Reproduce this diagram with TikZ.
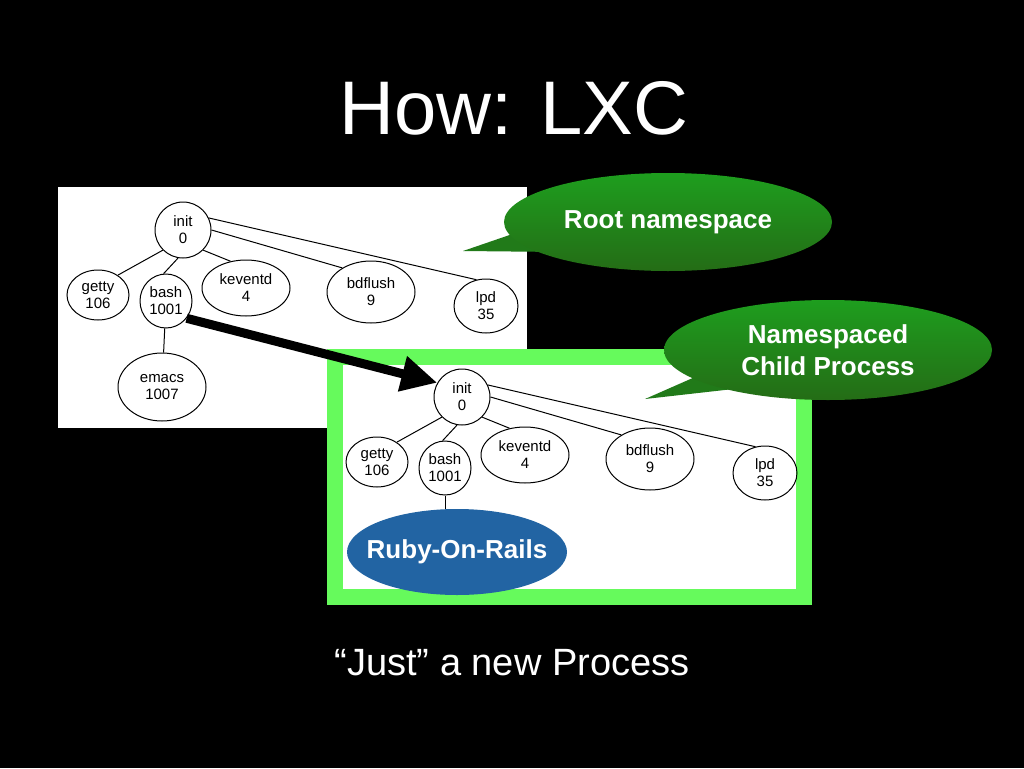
\documentclass[tikz,border=0pt]{standalone}
\usepackage{fontspec}
\setmainfont{Liberation Sans}
\usetikzlibrary{
  positioning, arrows.meta,
  shapes.geometric
}

\definecolor{framegreen}{RGB}{102,250,92}
\definecolor{bubbletop}{RGB}{30,158,30}
\definecolor{bubblebot}{RGB}{36,108,22}
\definecolor{bubbletail}{RGB}{33,122,25}
\definecolor{railsblue}{RGB}{34,100,163}

\tikzset{
  proc/.style={ellipse, draw, line width=1pt, inner sep=0pt, align=center,
    font=\fontsize{15}{17}\selectfont},
  bubble/.style={ellipse, inner sep=0pt, top color=bubbletop, bottom color=bubblebot,
    text=white, align=center, font=\bfseries\fontsize{26}{32}\selectfont},
  tail/.style={fill=bubbletail},
  bigarrow/.style={line width=9pt, -{Triangle[length=36pt,width=34pt]}},
  slidetext/.style={anchor=base, text=white}
}

% one hand drawn process tree, placed by the scope round it
\newcommand{\proctree}{%
  \node[proc, minimum width=56pt, minimum height=56pt] (init) at (183,230) {init\\0};
  \node[proc, minimum width=62pt, minimum height=50pt] (getty) at (98,295) {getty\\106};
  \node[proc, minimum width=52pt, minimum height=54pt] (bash) at (166,301) {bash\\1001};
  \node[proc, minimum width=88pt, minimum height=56pt] (keventd) at (246,288) {keventd\\4};
  \node[proc, minimum width=88pt, minimum height=62pt] (bdflush) at (371,292) {bdflush\\9};
  \node[proc, minimum width=64pt, minimum height=54pt] (lpd) at (486,306) {lpd\\35};
  \draw[line width=1pt] (init.-135) -- (getty.45);
  \draw[line width=1pt] (init.-100) -- (bash.95);
  \draw[line width=1pt] (init.-45) -- (keventd.120);
  \draw[line width=1pt] (init.0) -- (bdflush.140);
  \draw[line width=1pt] (init.25) -- (lpd.110);
}

\begin{document}
\begin{tikzpicture}[x=1pt, y=-1pt]
  \fill[black] (0,0) rectangle (1024,768);
  \useasboundingbox (0,0) rectangle (1024,768);

  \node[slidetext, font=\fontsize{76}{88}\selectfont] (title) at (514,134) {How: LXC};

  % root namespace picture
  \fill[white] (58,187) rectangle (527,428);
  \begin{scope}[name prefix=l-]
    \proctree
    \node[proc, minimum width=88pt, minimum height=68pt] (emacs) at (162,387) {emacs\\1007};
    \draw[line width=1pt] (bash) -- (emacs);
  \end{scope}

  % child picture in its green frame
  \draw[framegreen, line width=16pt, fill=white] (335,357) rectangle (804,597);
  \begin{scope}[shift={(279,167)}, name prefix=r-]
    \proctree
  \end{scope}
  \node[ellipse, fill=railsblue, inner sep=0pt, minimum width=220pt, minimum height=86pt,
    text=white, font=\bfseries\fontsize{26}{30}\selectfont] (rails) at (457,552) {\makebox[0pt]{Ruby-On-Rails}};
  \draw[line width=1pt] (r-bash.south) -- (r-bash.south |- rails.north);

  \draw[bigarrow] (l-bash.-40) -- (r-init.150);

  % callouts
  \coordinate (roottip) at (463,251);
  \fill[tail] (roottip) -- (530,228) -- (560,252) -- cycle;
  \node[bubble, minimum width=328pt, minimum height=98pt] (root) at (668,222) {Root namespace};

  \coordinate (childtip) at (645,399);
  \fill[tail] (childtip) -- (720,366) -- (760,386) -- cycle;
  \node[bubble, minimum width=328pt, minimum height=100pt] (child) at (828,350) {Namespaced\\Child Process};

  \node[slidetext, font=\fontsize{38}{44}\selectfont] (caption) at (512,675) {“Just” a new Process};
\end{tikzpicture}
\end{document}
